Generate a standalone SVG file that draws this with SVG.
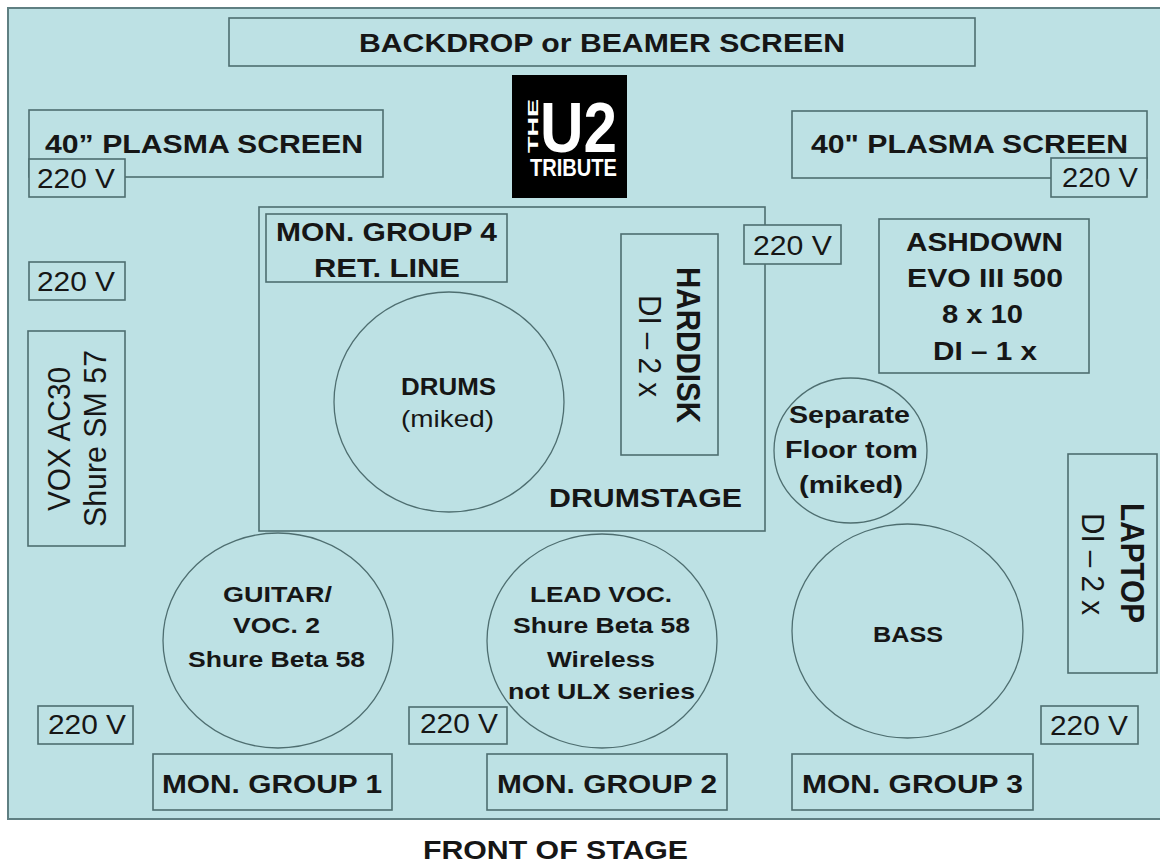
<svg xmlns="http://www.w3.org/2000/svg" width="1160" height="865" viewBox="0 0 1160 865">
<style>
.box{fill:#bde1e4;stroke:#4e6e70;stroke-width:1.6}
.ell{fill:none;stroke:#4e6e70;stroke-width:1.3}
text{font-family:"Liberation Sans",Arial,sans-serif;fill:#161616;text-anchor:middle;font-size:26.5px}
.b{font-weight:bold}
.sm{font-size:22px}
.v{font-size:27px}
.logo{font-family:"Liberation Sans Narrow","Liberation Sans",Arial,sans-serif;fill:#fff;font-weight:bold}
</style>
<rect x="0" y="0" width="1160" height="865" fill="#ffffff"/>
<g id="stage">
<rect x="8" y="8" width="1170" height="811" fill="#bde1e4" stroke="#5f7f82" stroke-width="2"/>
</g>
<g id="backdrop">
<rect class="box" x="229" y="18" width="746" height="48"/>
<text class="b" x="602" y="52" style="font-size:25px" textLength="486" lengthAdjust="spacingAndGlyphs">BACKDROP or BEAMER SCREEN</text>
</g>
<g id="logo">
<rect x="512" y="75" width="115" height="123" fill="#000"/>
<text class="logo" transform="translate(538,126) rotate(-90)" style="font-size:15px" textLength="54" lengthAdjust="spacingAndGlyphs">THE</text>
<text class="logo" x="578.5" y="152" style="font-size:71px" textLength="77" lengthAdjust="spacingAndGlyphs">U2</text>
<text class="logo" x="573.5" y="176" style="font-size:24px" textLength="87" lengthAdjust="spacingAndGlyphs">TRIBUTE</text>
</g>
<g id="plasma-left">
<rect class="box" x="29" y="110" width="354" height="67"/>
<text class="b" x="204" y="153" textLength="318" lengthAdjust="spacingAndGlyphs">40” PLASMA SCREEN</text>
</g>
<g id="plasma-right">
<rect class="box" x="792" y="111" width="355" height="67"/>
<text class="b" x="969.5" y="153" textLength="317" lengthAdjust="spacingAndGlyphs">40" PLASMA SCREEN</text>
</g>
<g id="power-1">
<rect class="box" x="29" y="159" width="96" height="38"/>
<text class="v" x="76" y="188" textLength="78" lengthAdjust="spacingAndGlyphs">220 V</text>
</g>
<g id="power-2">
<rect class="box" x="1051" y="158" width="96" height="39"/>
<text class="v" x="1100" y="187" textLength="76" lengthAdjust="spacingAndGlyphs">220 V</text>
</g>
<g id="power-3">
<rect class="box" x="29" y="262" width="96" height="38"/>
<text class="v" x="76" y="291" textLength="78" lengthAdjust="spacingAndGlyphs">220 V</text>
</g>
<g id="drumstage">
<rect class="box" x="259" y="207" width="506" height="324"/>
<text class="b" x="645.5" y="507" textLength="193" lengthAdjust="spacingAndGlyphs">DRUMSTAGE</text>
</g>
<g id="power-4">
<rect class="box" x="744" y="225" width="97" height="39"/>
<text class="v" x="792.5" y="255" textLength="79" lengthAdjust="spacingAndGlyphs">220 V</text>
</g>
<g id="mon-group-4">
<rect class="box" x="266" y="214" width="241" height="68"/>
<text class="b" x="386.5" y="241" textLength="221" lengthAdjust="spacingAndGlyphs">MON. GROUP 4</text>
<text class="b" x="387" y="277" textLength="146" lengthAdjust="spacingAndGlyphs">RET. LINE</text>
</g>
<g id="drums">
<ellipse class="ell" cx="449" cy="402" rx="115" ry="110"/>
<text class="b" x="448.5" y="395" style="font-size:24px" textLength="95" lengthAdjust="spacingAndGlyphs">DRUMS</text>
<text x="447.5" y="427" style="font-size:24px" textLength="93" lengthAdjust="spacingAndGlyphs">(miked)</text>
</g>
<g id="harddisk">
<rect class="box" x="621" y="234" width="97" height="221"/>
<text class="b" transform="translate(677,345) scale(1.14 1) rotate(90)" style="font-size:29px" textLength="156" lengthAdjust="spacingAndGlyphs">HARDDISK</text>
<text transform="translate(639,346) scale(1.14 1) rotate(90)" style="font-size:28px" textLength="102" lengthAdjust="spacingAndGlyphs">DI – 2 x</text>
</g>
<g id="ashdown">
<rect class="box" x="879" y="219" width="210" height="154"/>
<text class="b" x="984.5" y="251" textLength="157" lengthAdjust="spacingAndGlyphs">ASHDOWN</text>
<text class="b" x="985" y="287" textLength="156" lengthAdjust="spacingAndGlyphs">EVO III 500</text>
<text class="b" x="982.5" y="323" textLength="81" lengthAdjust="spacingAndGlyphs">8 x 10</text>
<text class="b" x="985" y="360" textLength="104" lengthAdjust="spacingAndGlyphs">DI – 1 x</text>
</g>
<g id="vox">
<rect class="box" x="28" y="331" width="97" height="215"/>
<text transform="translate(70,439) scale(1.14 1) rotate(-90)" style="font-size:28px" textLength="144" lengthAdjust="spacingAndGlyphs">VOX AC30</text>
<text transform="translate(106,438.5) scale(1.14 1) rotate(-90)" style="font-size:28px" textLength="177" lengthAdjust="spacingAndGlyphs">Shure SM 57</text>
</g>
<g id="floor-tom">
<ellipse class="ell" cx="850.5" cy="450.5" rx="76.5" ry="72.5"/>
<text class="b" x="849.5" y="423" style="font-size:23px" textLength="121" lengthAdjust="spacingAndGlyphs">Separate</text>
<text class="b" x="851.5" y="458" style="font-size:23px" textLength="133" lengthAdjust="spacingAndGlyphs">Floor tom</text>
<text class="b" x="851" y="493" style="font-size:23px" textLength="104" lengthAdjust="spacingAndGlyphs">(miked)</text>
</g>
<g id="laptop">
<rect class="box" x="1068" y="454" width="89" height="219"/>
<text class="b" transform="translate(1121,563) scale(1.14 1) rotate(90)" style="font-size:29px" textLength="120" lengthAdjust="spacingAndGlyphs">LAPTOP</text>
<text transform="translate(1082,564) scale(1.14 1) rotate(90)" style="font-size:28px" textLength="102" lengthAdjust="spacingAndGlyphs">DI – 2 x</text>
</g>
<g id="guitar">
<ellipse class="ell" cx="278" cy="640.5" rx="115" ry="107.5"/>
<text class="b sm" x="277.5" y="602" textLength="109" lengthAdjust="spacingAndGlyphs">GUITAR/</text>
<text class="b sm" x="276.5" y="633" textLength="87" lengthAdjust="spacingAndGlyphs">VOC. 2</text>
<text class="b sm" x="276.5" y="667" textLength="177" lengthAdjust="spacingAndGlyphs">Shure Beta 58</text>
</g>
<g id="lead-voc">
<ellipse class="ell" cx="602" cy="641" rx="115" ry="107"/>
<text class="b sm" x="601" y="602" textLength="142" lengthAdjust="spacingAndGlyphs">LEAD VOC.</text>
<text class="b sm" x="601.5" y="633" textLength="177" lengthAdjust="spacingAndGlyphs">Shure Beta 58</text>
<text class="b sm" x="601" y="667" textLength="108" lengthAdjust="spacingAndGlyphs">Wireless</text>
<text class="b sm" x="601.5" y="699" textLength="187" lengthAdjust="spacingAndGlyphs">not ULX series</text>
</g>
<g id="bass">
<ellipse class="ell" cx="907.5" cy="631" rx="115.5" ry="107"/>
<text class="b sm" x="908" y="642" textLength="70" lengthAdjust="spacingAndGlyphs">BASS</text>
</g>
<g id="power-5">
<rect class="box" x="38" y="706" width="95" height="38"/>
<text class="v" x="87" y="734" textLength="78" lengthAdjust="spacingAndGlyphs">220 V</text>
</g>
<g id="power-6">
<rect class="box" x="409" y="707" width="98" height="37"/>
<text class="v" x="459" y="733" textLength="78" lengthAdjust="spacingAndGlyphs">220 V</text>
</g>
<g id="power-7">
<rect class="box" x="1041" y="706" width="97" height="38"/>
<text class="v" x="1089" y="735" textLength="78" lengthAdjust="spacingAndGlyphs">220 V</text>
</g>
<g id="mon-group-1">
<rect class="box" x="153" y="754" width="239" height="56"/>
<text class="b" x="272" y="793" textLength="220" lengthAdjust="spacingAndGlyphs">MON. GROUP 1</text>
</g>
<g id="mon-group-2">
<rect class="box" x="487" y="754" width="240" height="56"/>
<text class="b" x="607" y="793" textLength="220" lengthAdjust="spacingAndGlyphs">MON. GROUP 2</text>
</g>
<g id="mon-group-3">
<rect class="box" x="792" y="754" width="241" height="56"/>
<text class="b" x="912.5" y="793" textLength="221" lengthAdjust="spacingAndGlyphs">MON. GROUP 3</text>
</g>
<g id="front-of-stage">
<text class="b" x="555.5" y="859" style="font-size:26px" textLength="265" lengthAdjust="spacingAndGlyphs">FRONT OF STAGE</text>
</g>
</svg>
